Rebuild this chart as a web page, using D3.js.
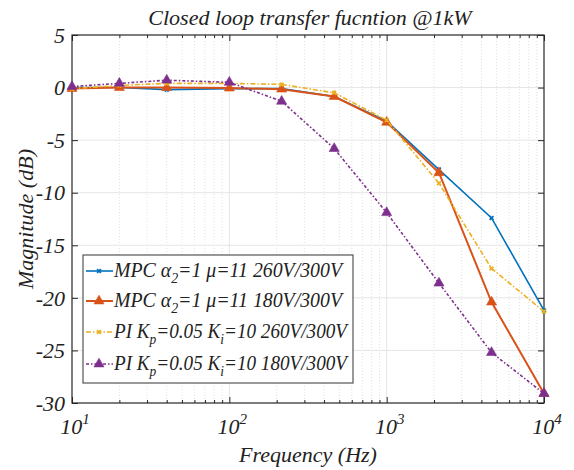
<!DOCTYPE html>
<html>
<head>
<meta charset="utf-8">
<script src="https://cdn.jsdelivr.net/npm/d3@7"></script>
</head>
<body style="margin:0;background:#fff">
<div id="chart"></div>
<script>
// DATA
const freqs = [10, 20, 40, 100, 215, 464, 1000, 2150, 4640, 10000];
const mpc260 = [0, 0, -0.2, -0.1, -0.1, -0.85, -3.2, -7.8, -12.4, -21.2];
const mpc180 = [-0.1, 0, 0, -0.05, -0.15, -0.85, -3.3, -8.1, -20.4, -29.1];
const pi260 = [-0.1, 0.2, 0.4, 0.4, 0.3, -0.5, -3.1, -9.1, -17.2, -21.3];
const pi180 = [0.1, 0.4, 0.7, 0.5, -1.3, -5.8, -11.9, -18.6, -25.2, -29.1];
const yTicks = [5, 0, -5, -10, -15, -20, -25, -30];
const xDecades = [1, 2, 3, 4];

const series = [
  { vals: mpc260, color: '#0072BD', dash: null, width: 1.6, marker: 'cross',
    label: [['MPC ', 0], ['α', 0], ['2', 1], ['=1 μ=11 260V/300V', 0]] },
  { vals: mpc180, color: '#D95319', dash: null, width: 2, marker: 'tri',
    label: [['MPC ', 0], ['α', 0], ['2', 1], ['=1 μ=11 180V/300V', 0]] },
  { vals: pi260, color: '#EDB120', dash: '5,2,1.5,2', width: 1.6, marker: 'cross',
    label: [['PI K', 0], ['p', 1], ['=0.05 K', 0], ['i', 1], ['=10 260V/300V', 0]] },
  { vals: pi180, color: '#7E2F8E', dash: '3,2,1.5,2', width: 1.6, marker: 'tri',
    label: [['PI K', 0], ['p', 1], ['=0.05 K', 0], ['i', 1], ['=10 180V/300V', 0]] },
];

const FONT = 'Liberation Serif';
const W = 574, H = 470;
const m = { top: 35, right: 30, bottom: 67, left: 72 };
const w = W - m.left - m.right;
const h = H - m.top - m.bottom;

const svg = d3.select('#chart').append('svg').attr('width', W).attr('height', H);
const g = svg.append('g').attr('transform', `translate(${m.left},${m.top})`);

// text helper
function txt(sel, size) {
  return sel.append('text').attr('font-family', FONT).attr('font-style', 'italic')
    .attr('font-size', size).attr('fill', '#222');
}

// SCALES
const x = d3.scaleLog().domain([10, 10000]).range([0, w]);
const y = d3.scaleLinear().domain([-30, 5]).range([h, 0]);

// MINOR GRID
const minor = [];
[10, 100, 1000].forEach(b => { for (let k = 2; k <= 9; k++) minor.push(b * k); });
g.selectAll('.mg').data(minor).enter().append('line')
  .attr('x1', d => x(d)).attr('x2', d => x(d)).attr('y1', 0).attr('y2', h)
  .attr('stroke', '#d8d8d8').attr('stroke-width', 0.8).attr('stroke-dasharray', '1,2');

// MAJOR GRID
g.selectAll('.gx').data([100, 1000]).enter().append('line')
  .attr('x1', d => x(d)).attr('x2', d => x(d)).attr('y1', 0).attr('y2', h)
  .attr('stroke', '#e6e6e6').attr('stroke-width', 1);
g.selectAll('.gy').data(yTicks.slice(1, -1)).enter().append('line')
  .attr('x1', 0).attr('x2', w).attr('y1', d => y(d)).attr('y2', d => y(d))
  .attr('stroke', '#e6e6e6').attr('stroke-width', 1);

// AXES (inward ticks on all sides)
const axB = d3.axisBottom(x).tickValues(xDecades.map(p => Math.pow(10, p))).tickSize(-6).tickFormat('');
const axT = d3.axisTop(x).tickValues(xDecades.map(p => Math.pow(10, p))).tickSize(-6).tickFormat('');
const axBm = d3.axisBottom(x).tickValues(minor).tickSize(-3).tickFormat('');
const axTm = d3.axisTop(x).tickValues(minor).tickSize(-3).tickFormat('');
const axL = d3.axisLeft(y).tickValues(yTicks).tickSize(-6).tickFormat('');
const axR = d3.axisRight(y).tickValues(yTicks).tickSize(-6).tickFormat('');
[[axB, `0,${h}`], [axBm, `0,${h}`], [axT, '0,0'], [axTm, '0,0'], [axL, '0,0'], [axR, `${w},0`]].forEach(([a, t]) => {
  const s = g.append('g').attr('transform', `translate(${t})`).call(a);
  s.select('.domain').remove();
  s.selectAll('line').attr('stroke', '#262626').attr('stroke-width', 1);
});
g.append('rect').attr('width', w).attr('height', h).attr('fill', 'none').attr('stroke', '#262626').attr('stroke-width', 1.2);

// TICK LABELS
yTicks.forEach(d => {
  txt(g, 22).attr('x', -7).attr('y', y(d)).attr('dy', '0.35em')
    .attr('text-anchor', 'end').text(d);
});
xDecades.forEach(d => {
  const t = txt(g, 22).attr('x', x(Math.pow(10, d)) + 3).attr('y', h + 31).attr('text-anchor', 'middle');
  t.append('tspan').text('10');
  t.append('tspan').attr('font-size', 15).attr('dy', -10).text(d);
});

// TITLE & AXIS LABELS
txt(svg, 22).attr('x', m.left + w / 2 + 2).attr('y', 25).attr('text-anchor', 'middle')
  .text('Closed loop transfer fucntion @1kW');
txt(svg, 22).attr('x', m.left + w / 2).attr('y', 462).attr('text-anchor', 'middle')
  .text('Frequency (Hz)');
txt(svg, 22).attr('transform', `translate(33,${m.top + h / 2}) rotate(-90)`)
  .attr('text-anchor', 'middle').text('Magnitude (dB)');

// MARKERS
function drawMarker(sel, type, color) {
  if (type === 'tri') {
    sel.append('path').attr('d', d3.symbol(d3.symbolTriangle, 44)())
      .attr('fill', color).attr('stroke', color).attr('stroke-opacity', 0.6).attr('stroke-width', 1);
  } else {
    sel.append('path').attr('d', d3.symbol(d3.symbolCross, 16)())
      .attr('transform', 'rotate(45)').attr('fill', color);
  }
}

// LINES
const line = d3.line().x((d, i) => x(freqs[i])).y(d => y(d));
series.forEach(s => {
  g.append('path').datum(s.vals).attr('d', line).attr('fill', 'none')
    .attr('stroke', s.color).attr('stroke-width', s.width)
    .attr('stroke-dasharray', s.dash);
  s.vals.forEach((v, i) => {
    const mk = g.append('g').attr('transform', `translate(${x(freqs[i])},${y(v)})`);
    drawMarker(mk, s.marker, s.color);
  });
});

// LEGEND
const lg = g.append('g').attr('transform', `translate(${83 - m.left},${255 - m.top})`);
lg.append('rect').attr('width', 270).attr('height', 128).attr('fill', '#fff')
  .attr('stroke', '#555').attr('stroke-width', 1.2);
const rowY = [16, 46, 77, 109];
const rowLen = [228, 228, 233, 233];
series.forEach((s, i) => {
  const r = lg.append('g').attr('transform', `translate(0,${rowY[i]})`);
  r.append('line').attr('x1', 3).attr('x2', 30).attr('y1', 0).attr('y2', 0)
    .attr('stroke', s.color).attr('stroke-width', s.width).attr('stroke-dasharray', s.dash);
  const mk = r.append('g').attr('transform', 'translate(16,0)');
  drawMarker(mk, s.marker, s.color);
  const t = txt(r, 20).attr('x', 31).attr('y', 6)
    .attr('textLength', rowLen[i]).attr('lengthAdjust', 'spacingAndGlyphs');
  s.label.forEach(([str, sub]) => {
    if (sub) t.append('tspan').attr('font-size', 14).attr('baseline-shift', '-40%').text(str);
    else t.append('tspan').text(str);
  });
});
</script>
</body>
</html>
